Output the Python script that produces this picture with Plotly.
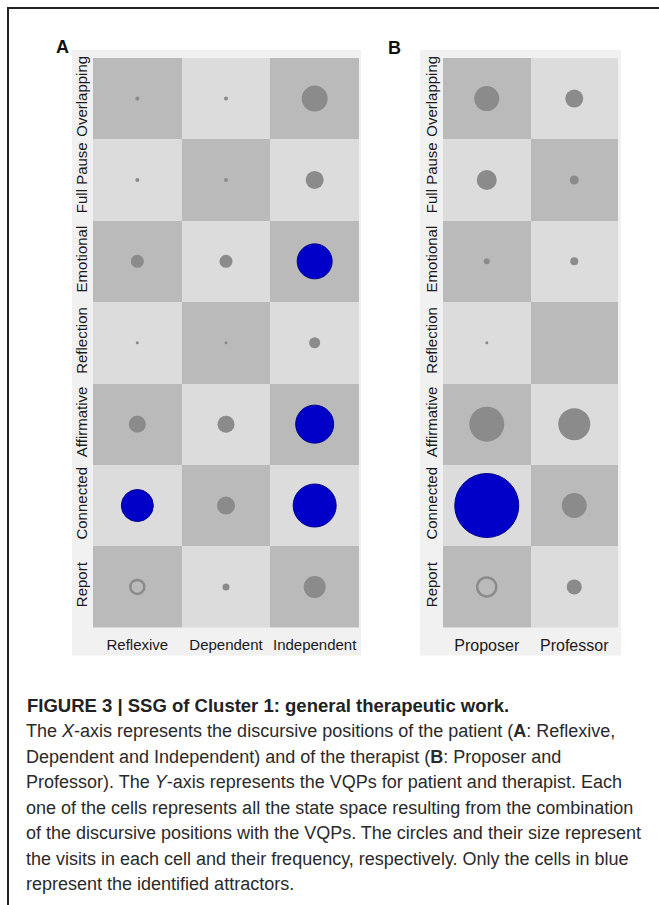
import plotly.graph_objects as go

# ---------------- data ----------------
vqp_rows = ["Report", "Connected", "Affirmative", "Reflection", "Emotional", "Full Pause", "Overlapping"]
patient_positions = ["Reflexive", "Dependent", "Independent"]
therapist_positions = ["Proposer", "Professor"]

# circle size (px diameter), rows bottom -> top
visits_A = [
    [14, 7, 22],    # Report
    [32, 18, 43],   # Connected
    [17, 17, 38],   # Affirmative
    [3, 3, 11],     # Reflection
    [13, 13, 35],   # Emotional
    [4, 4, 18],     # Full Pause
    [4, 4, 26],     # Overlapping
]
visits_B = [
    [19, 15],   # Report
    [64, 25],   # Connected
    [35, 32],   # Affirmative
    [3, 0],     # Reflection
    [6, 8],     # Emotional
    [20, 9],    # Full Pause
    [25, 18],   # Overlapping
]
# attractor cells (row, col)
attractors_A = [(1, 0), (1, 2), (2, 2), (4, 2)]
attractors_B = [(1, 0)]
# hollow (ring) cells
rings_A = [(0, 0)]
rings_B = [(0, 0)]

caption_title = "<b>FIGURE 3 | SSG of Cluster 1: general therapeutic work.</b>"
caption_lines = [
    "The <i>X</i>-axis represents the discursive positions of the patient (<b>A</b>: Reflexive,",
    "Dependent and Independent) and of the therapist (<b>B</b>: Proposer and",
    "Professor). The <i>Y</i>-axis represents the VQPs for patient and therapist. Each",
    "one of the cells represents all the state space resulting from the combination",
    "of the discursive positions with the VQPs. The circles and their size represent",
    "the visits in each cell and their frequency, respectively. Only the cells in blue",
    "represent the identified attractors.",
]

# ---------------- styling ----------------
W, H = 659, 905
DARK, LIGHT = "#bababa", "#dcdcdc"
FRAME = "#f1f1f1"
GRAY_DOT = "#8b8b8b"
BLUE = "#0000c8"
FONT = "Liberation Sans, Arial, sans-serif"


def px_x(p):
    return p / W


def px_y(p):
    return 1 - p / H


fig = go.Figure()


def add_panel(visits, cols, attractors, rings, xa, ya):
    nr, nc = len(vqp_rows), len(cols)
    z = [[(r + c) % 2 for c in range(nc)] for r in range(nr)]
    fig.add_trace(go.Heatmap(
        z=z, x=list(range(nc)), y=list(range(nr)),
        colorscale=[[0, DARK], [1, LIGHT]], zmin=0, zmax=1,
        showscale=False, hoverinfo="skip", xaxis=xa, yaxis=ya))
    gx, gy, gs = [], [], []
    bx, by, bs = [], [], []
    rx, ry, rs, rc = [], [], [], []
    for r in range(nr):
        for c in range(nc):
            s = visits[r][c]
            if s <= 0:
                continue
            if (r, c) in attractors:
                bx.append(c); by.append(r); bs.append(s)
            elif (r, c) in rings:
                rx.append(c); ry.append(r); rs.append(s)
                rc.append(DARK if (r + c) % 2 == 0 else LIGHT)
            else:
                gx.append(c); gy.append(r); gs.append(s)
    fig.add_trace(go.Scatter(x=gx, y=gy, mode="markers", xaxis=xa, yaxis=ya,
                             marker=dict(size=gs, color=GRAY_DOT, opacity=1, line=dict(width=0)),
                             hoverinfo="skip", showlegend=False))
    fig.add_trace(go.Scatter(x=rx, y=ry, mode="markers", xaxis=xa, yaxis=ya,
                             marker=dict(size=rs, color=rc, opacity=1,
                                         line=dict(width=2.5, color=GRAY_DOT)),
                             hoverinfo="skip", showlegend=False))
    fig.add_trace(go.Scatter(x=bx, y=by, mode="markers", xaxis=xa, yaxis=ya,
                             marker=dict(size=bs, color=BLUE, opacity=1,
                                         line=dict(width=1, color="#00008a")),
                             hoverinfo="skip", showlegend=False))


add_panel(visits_A, patient_positions, attractors_A, rings_A, "x", "y")
add_panel(visits_B, therapist_positions, attractors_B, rings_B, "x2", "y2")


def xaxis_cfg(domain, labels, anchor, size):
    return dict(domain=domain, range=[-0.5, len(labels) - 0.5],
                tickvals=list(range(len(labels))), ticktext=labels,
                showgrid=False, zeroline=False, showline=False, ticks="",
                tickfont=dict(family=FONT, size=size, color="#1a1a1a"),
                ticklabelstandoff=6, anchor=anchor, fixedrange=True)


def yaxis_cfg(domain, anchor):
    return dict(domain=domain, range=[-0.5, len(vqp_rows) - 0.5],
                tickvals=list(range(len(vqp_rows))), ticktext=vqp_rows,
                tickangle=-90, showgrid=False, zeroline=False, showline=False,
                ticks="", tickfont=dict(family=FONT, size=15, color="#1a1a1a"),
                ticklabelstandoff=2, anchor=anchor, fixedrange=True)


ydom = [px_y(627), px_y(56)]
fig.update_layout(
    width=W, height=H, margin=dict(l=0, r=0, t=0, b=0),
    paper_bgcolor="white", plot_bgcolor="white", showlegend=False,
    xaxis=xaxis_cfg([px_x(93), px_x(359)], patient_positions, "y", 15),
    yaxis=yaxis_cfg(ydom, "x"),
    xaxis2=xaxis_cfg([px_x(443), px_x(618)], therapist_positions, "y2", 16),
    yaxis2=yaxis_cfg(ydom, "x2"),
)

shapes = [
    # light frames behind panels
    dict(type="rect", xref="paper", yref="paper", x0=px_x(72), x1=px_x(361),
         y0=px_y(655), y1=px_y(48), fillcolor=FRAME, line=dict(width=0), layer="below"),
    dict(type="rect", xref="paper", yref="paper", x0=px_x(420), x1=px_x(621),
         y0=px_y(655), y1=px_y(48), fillcolor=FRAME, line=dict(width=0), layer="below"),
    # figure border (top + left)
    dict(type="line", xref="paper", yref="paper", x0=px_x(7), x1=1,
         y0=px_y(6), y1=px_y(6), line=dict(color="#222222", width=2)),
    dict(type="line", xref="paper", yref="paper", x0=px_x(8), x1=px_x(8),
         y0=px_y(6), y1=0, line=dict(color="#222222", width=2)),
]
fig.update_layout(shapes=shapes)

annotations = [
    dict(text="<b>A</b>", x=px_x(54), y=px_y(33), xref="paper", yref="paper",
         showarrow=False, font=dict(family=FONT, size=18, color="#111")),
    dict(text="<b>B</b>", x=px_x(394), y=px_y(34), xref="paper", yref="paper",
         showarrow=False, font=dict(family=FONT, size=18, color="#111")),
    dict(text=caption_title, x=px_x(25), y=px_y(705), xref="paper", yref="paper",
         xanchor="left", yanchor="middle", showarrow=False, align="left",
         font=dict(family=FONT, size=18.5, color="#222222")),
]
line_y0, line_dy = 705, 25.6
for i, t in enumerate(caption_lines):
    annotations.append(dict(
        text=t, x=px_x(24), y=px_y(line_y0 + (i + 1) * line_dy), xref="paper", yref="paper",
        xanchor="left", yanchor="middle", showarrow=False, align="left",
        font=dict(family=FONT, size=18, color="#2a2a2a")))
fig.update_layout(annotations=annotations)

fig.write_html("out.html", config={"displayModeBar": False},
               post_script="document.body.style.margin='0';")
